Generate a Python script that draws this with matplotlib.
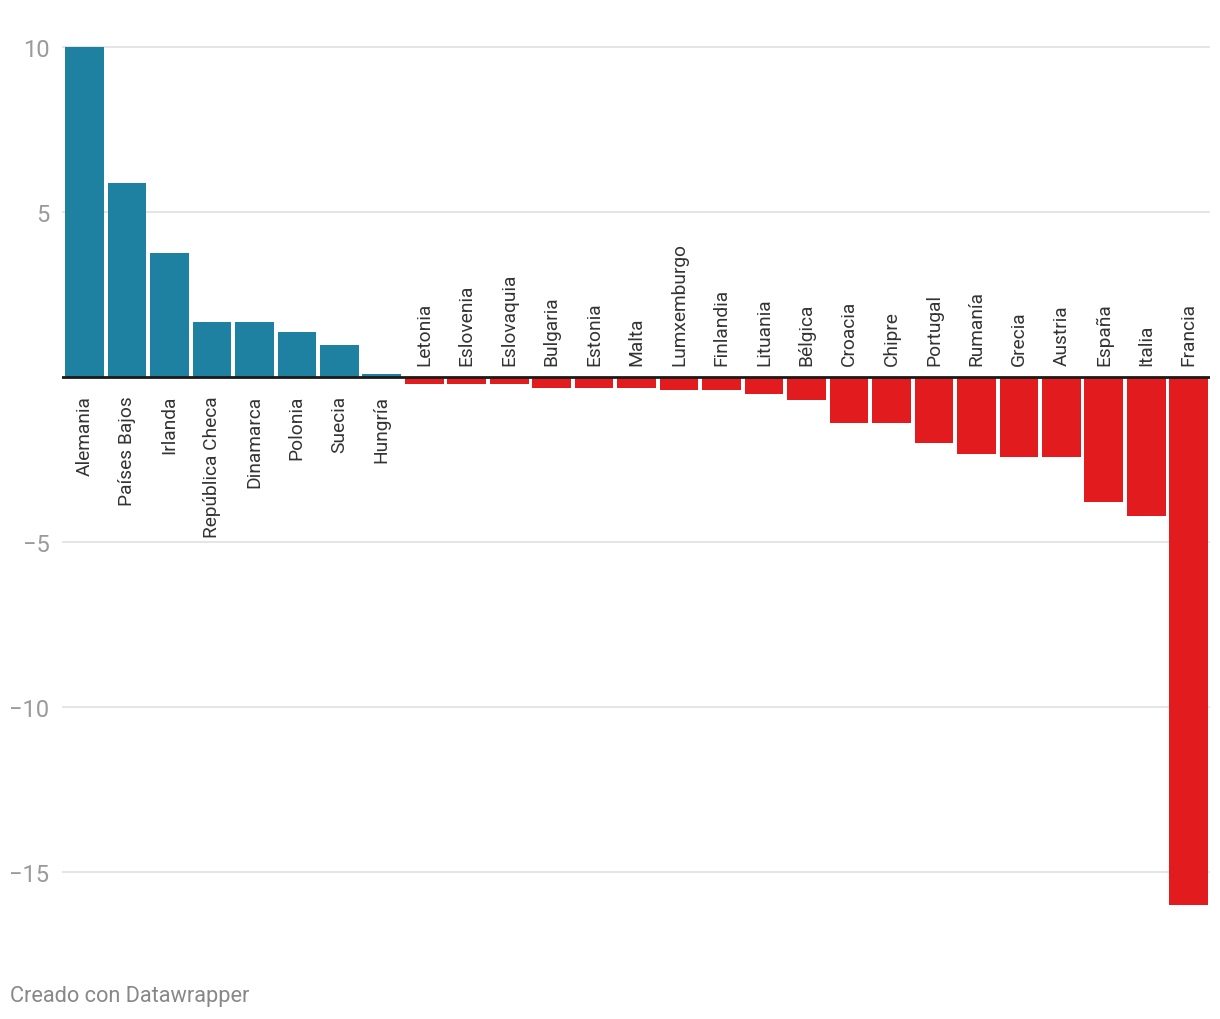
import numpy as np
import matplotlib.pyplot as plt

countries = ['Alemania', 'Países Bajos', 'Irlanda', 'República Checa', 'Dinamarca',
             'Polonia', 'Suecia', 'Hungría', 'Letonia', 'Eslovenia', 'Eslovaquia',
             'Bulgaria', 'Estonia', 'Malta', 'Lumxemburgo', 'Finlandia', 'Lituania',
             'Bélgica', 'Croacia', 'Chipre', 'Portugal', 'Rumanía', 'Grecia',
             'Austria', 'España', 'Italia', 'Francia']
values = [10.0, 5.88, 3.76, 1.67, 1.67, 1.36, 0.97, 0.1, -0.21, -0.21, -0.21,
          -0.33, -0.33, -0.33, -0.39, -0.39, -0.52, -0.70, -1.39, -1.39, -2.0,
          -2.33, -2.42, -2.42, -3.79, -4.21, -16.0]
yticks = [10, 5, -5, -10, -15]

plt.rcParams['font.family'] = ['Roboto', 'DejaVu Sans']

blue = '#1f81a1'
red = '#e21b1f'

fig = plt.figure(figsize=(12.2, 10.2), dpi=100)
W, H = 1220, 1020
ax = fig.add_axes([62 / W, 1 - 922.5 / H, (1210 - 62) / W, (922.5 - 31.5) / H])

x = np.arange(len(values))
cols = [blue if v >= 0 else red for v in values]
ax.bar(x, values, width=0.91, color=cols, zorder=2)
ax.set_xlim(-0.53, 26.5)
ax.set_ylim(-16.5, 10.5)

for t in yticks:
    ax.axhline(t, color='#e3e3e3', lw=1.3, zorder=1)
ax.axhline(0, color='#1a1a1a', lw=2.0, zorder=3)

ax.set_yticks(yticks)
ax.set_yticklabels([str(t).replace('-', '\u2212') for t in yticks],
                   color='#9a9a9a', fontsize=17)
ax.tick_params(axis='y', length=0, pad=9)
ax.set_xticks([])
for s in ax.spines.values():
    s.set_visible(False)

for xi, name, v in zip(x, countries, values):
    if v >= 0:
        ax.annotate(name, (xi, 0), xytext=(0, -13), textcoords='offset points',
                    rotation=90, ha='center', va='top', fontsize=13.8, color='#333333')
    else:
        ax.annotate(name, (xi, 0), xytext=(0, 9), textcoords='offset points',
                    rotation=90, ha='center', va='bottom', fontsize=13.8, color='#333333')

fig.text(10 / W, 1 - 997 / H, 'Creado con Datawrapper', fontsize=15.7,
         color='#888888', ha='left', va='center')

fig.savefig('out.png', dpi=100)
